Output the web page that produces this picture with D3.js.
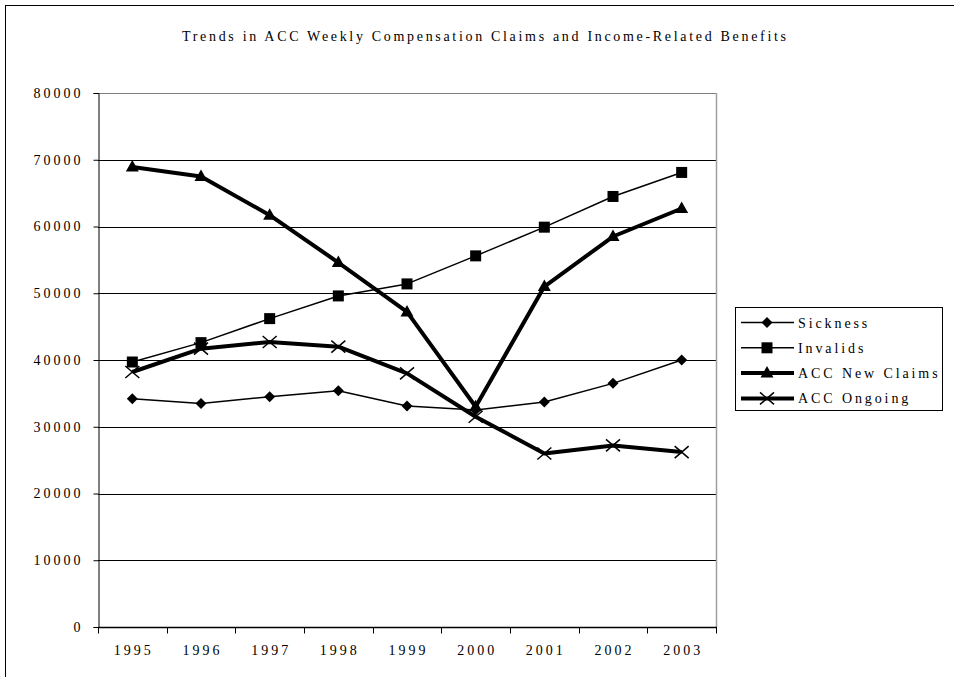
<!DOCTYPE html>
<html><head><meta charset="utf-8">
<script src="https://cdn.jsdelivr.net/npm/d3@7"></script>
<style>body{margin:0;background:#fff}svg{display:block}text{font-family:"Liberation Serif","Times New Roman",serif;fill:#000}</style>
</head><body><svg id="c" width="954" height="677"></svg>
<script>
const years = ["1995","1996","1997","1998","1999","2000","2001","2002","2003"];
const sickness = [34200,33500,34500,35400,33100,32500,33700,36500,40000];
const invalids = [39700,42600,46200,49600,51400,55600,59900,64500,68100];
const accNewClaims = [68900,67500,61700,54600,47200,33000,51000,58500,62700];
const accOngoing = [38200,41700,42700,42000,38000,31500,26000,27200,26200];
const yTicks = [0,10000,20000,30000,40000,50000,60000,70000,80000];
const title = "Trends in ACC Weekly Compensation Claims and Income-Related Benefits";

const series = [
  {name:"Sickness", values:sickness, width:1.5, marker:"diamond"},
  {name:"Invalids", values:invalids, width:1.5, marker:"square"},
  {name:"ACC New Claims", values:accNewClaims, width:4, marker:"triangle"},
  {name:"ACC Ongoing", values:accOngoing, width:4, marker:"cross"}
];

const FONT = '"Liberation Serif","Times New Roman",serif';
const svg = d3.select("#c");
const L=98, R=716, T=93, B=627;
svg.append("rect").attr("x",5.5).attr("y",5.5).attr("width",1000).attr("height",1000)
  .attr("fill","none").attr("stroke","#000").attr("stroke-width",1);

svg.append("text").attr("x",182).attr("y",40.5).attr("font-family",FONT)
  .attr("textLength",604).attr("lengthAdjust","spacing")
  .style("font-size","14px").text(title);

const x = d3.scaleBand().domain(years).range([L,R]);
const y = d3.scaleLinear().domain([0,80000]).range([B,T]);

// gridlines
svg.append("g").selectAll("line").data(yTicks.filter(d=>d>0)).join("line")
  .attr("x1",L).attr("x2",R).attr("y1",d=>Math.round(y(d))+0.5).attr("y2",d=>Math.round(y(d))+0.5)
  .attr("stroke",d=>d===80000?"#808080":"#000").attr("stroke-width",1);
svg.append("line").attr("x1",R+0.5).attr("x2",R+0.5).attr("y1",T).attr("y2",B)
  .attr("stroke","#a0a0a0").attr("stroke-width",1.5);

// y axis
const ya = svg.append("g").attr("transform",`translate(${L+0.5},0)`)
  .call(d3.axisLeft(y).tickValues(yTicks).tickSize(5).tickPadding(13).tickFormat(d3.format("d")));
ya.attr("font-family",FONT);
ya.select(".domain").attr("stroke","#000");
ya.selectAll("text").style("font-size","14px").style("letter-spacing","3px").attr("dx","3");
ya.selectAll("line").attr("stroke","#000");

// x axis
const xa = svg.append("g").attr("transform",`translate(0,${B+0.5})`);
xa.append("line").attr("x1",L).attr("x2",R+1).attr("stroke","#000").attr("stroke-width",1.5);
const bounds = years.map(d=>x(d)).concat([R]);
xa.selectAll("line.t").data(bounds).join("line").attr("class","t")
  .attr("x1",d=>Math.round(d)+0.5).attr("x2",d=>Math.round(d)+0.5).attr("y1",0).attr("y2",6).attr("stroke","#000");
xa.selectAll("text").data(years).join("text").attr("font-family",FONT)
  .attr("x",d=>x(d)+x.bandwidth()/2+1.5).attr("y",27).attr("text-anchor","middle")
  .style("font-size","14px").style("letter-spacing","3px").text(d=>d);

function drawMarker(g, type, cx, cy){
  if(type==="diamond"){
    g.append("path").attr("d",`M${cx},${cy-5.5}L${cx+5.5},${cy}L${cx},${cy+5.5}L${cx-5.5},${cy}Z`).attr("fill","#000");
  } else if(type==="square"){
    g.append("rect").attr("x",cx-5.5).attr("y",cy-5.5).attr("width",11).attr("height",11).attr("fill","#000");
  } else if(type==="triangle"){
    g.append("path").attr("d",`M${cx},${cy-7}L${cx+6.5},${cy+4.5}L${cx-6.5},${cy+4.5}Z`).attr("fill","#000");
  } else {
    g.append("path").attr("d",`M${cx-7},${cy-6}L${cx+7},${cy+6}M${cx-7},${cy+6}L${cx+7},${cy-6}`)
      .attr("stroke","#000").attr("stroke-width",1.5).attr("fill","none");
  }
}

const line = d3.line().x((d,i)=>x(years[i])+x.bandwidth()/2).y(d=>y(d));
series.forEach(s=>{
  const g = svg.append("g");
  g.append("path").attr("d",line(s.values)).attr("fill","none").attr("stroke","#000")
    .attr("stroke-width",s.width).attr("stroke-linejoin","round");
  s.values.forEach((v,i)=>drawMarker(g,s.marker,x(years[i])+x.bandwidth()/2,y(v)));
});

// legend
const lg = svg.append("g");
lg.append("rect").attr("x",735.5).attr("y",307.5).attr("width",207).attr("height",103)
  .attr("fill","#fff").attr("stroke","#000");
series.forEach((s,i)=>{
  const cy = 322.5 + i*25.3;
  lg.append("line").attr("x1",741).attr("x2",794).attr("y1",cy).attr("y2",cy)
    .attr("stroke","#000").attr("stroke-width",s.width);
  drawMarker(lg,s.marker,767,cy);
  lg.append("text").attr("x",798).attr("y",cy+5).attr("font-family",FONT).style("font-size","14px")
    .style("letter-spacing","2.9px").text(s.name);
});
</script></body></html>
